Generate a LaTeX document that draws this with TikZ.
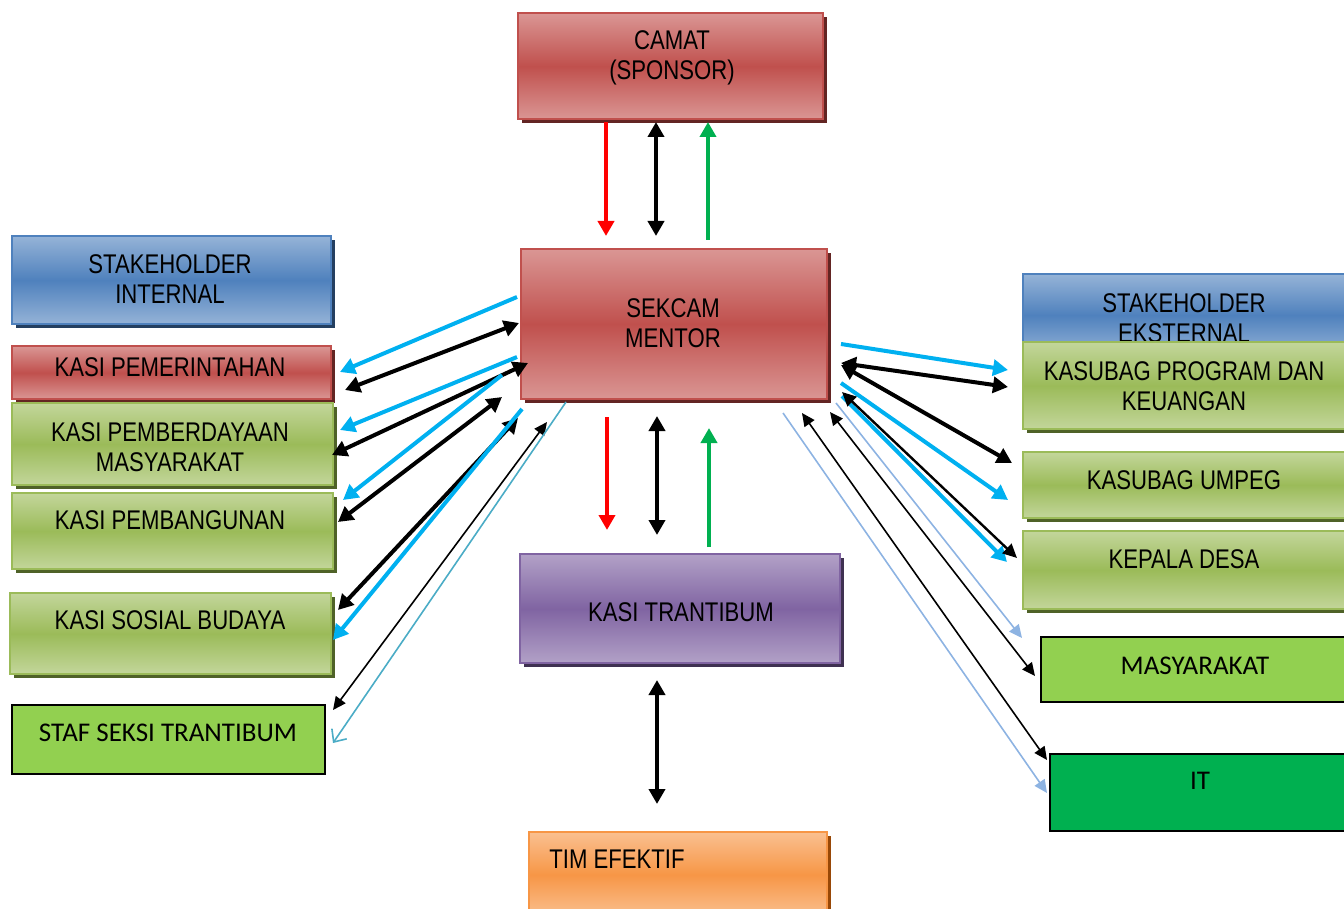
\documentclass[tikz,border=0pt]{standalone}
\usepackage{fontspec}
\setmainfont[FakeStretch=0.82]{Liberation Sans}
\newfontfamily\calfont{Carlito}
\usetikzlibrary{arrows.meta,shadows}

% panel colours: light (L), middle (M), shadow (D)
\definecolor{redL}{HTML}{DA9694}
\definecolor{redM}{HTML}{C0504D}
\definecolor{redD}{HTML}{632523}
\definecolor{bluL}{HTML}{95B3D7}
\definecolor{bluM}{HTML}{4F81BD}
\definecolor{bluD}{HTML}{243F60}
\definecolor{grnL}{HTML}{C3D69B}
\definecolor{grnM}{HTML}{9BBB59}
\definecolor{grnD}{HTML}{4F6228}
\definecolor{purL}{HTML}{B2A1C7}
\definecolor{purM}{HTML}{8064A2}
\definecolor{purD}{HTML}{3F3151}
\definecolor{orgL}{HTML}{FAC090}
\definecolor{orgM}{HTML}{F79646}
\definecolor{orgD}{HTML}{984807}
\definecolor{limeflat}{HTML}{92D050}
\definecolor{greenflat}{HTML}{00B050}
\definecolor{arrcyan}{HTML}{00B0F0}
\definecolor{arrred}{HTML}{FF0000}
\definecolor{arrgreen}{HTML}{00B050}
\definecolor{arrteal}{HTML}{4BACC6}
\definecolor{arrsky}{HTML}{8DB3E2}

\tikzset{
  panel/.style={anchor=north west, inner sep=0pt, line width=1.2pt,
    draw=#1M, top color=#1L, bottom color=#1L, middle color=#1M,
    drop shadow={shadow xshift=2pt, shadow yshift=-2pt, fill=#1D, opacity=1}},
  flatbox/.style={anchor=north west, inner sep=0pt, draw=black,
    line width=0.9pt, fill=#1},
  lbl/.style={font=\fontsize{13.5}{15}\selectfont, align=center, inner sep=0pt},
  clbl/.style={font=\calfont\fontsize{13.5}{15}\selectfont, inner sep=0pt},
  bigtip/.tip={Triangle[length=7.5pt,width=8pt]},
  midtip/.tip={Triangle[length=7pt,width=6.5pt]},
  smalltip/.tip={Triangle[length=6.5pt,width=6pt]},
  thickone/.style={line width=2pt, -bigtip},
  thicktwo/.style={line width=2pt, bigtip-bigtip},
  midtwo/.style={line width=1.2pt, midtip-midtip},
  thintwo/.style={line width=0.8pt, smalltip-smalltip},
  thinone/.style={line width=0.8pt, -smalltip},
  openone/.style={line width=0.8pt, -{Straight Barb[length=5pt,width=9pt]}},
}

\begin{document}
\begin{tikzpicture}[x=0.5pt,y=-0.5pt]
\path[use as bounding box] (0,0) rectangle (1344,909);
\clip (0,0) rectangle (1344,909);

% ---- centre column ----
\node[panel=red, minimum width=152.5pt, minimum height=53pt] (camat) at (517,12) {};
\node[lbl] (camat-t) at (672,58) {CAMAT\\(SPONSOR)};
\node[panel=red, minimum width=153pt, minimum height=75pt] (sek) at (520,248) {};
\node[lbl] (sek-t) at (673,323) {SEKCAM\\MENTOR};
\node[panel=pur, minimum width=160pt, minimum height=54.5pt] (ktr) at (519,553) {};
\node[lbl] (ktr-t) at (681,612) {KASI TRANTIBUM};
\node[panel=org, minimum width=149pt, minimum height=42.5pt] (tim) at (528,831) {};
\node[lbl] (tim-t) at (617,859) {TIM EFEKTIF};

% ---- internal stakeholders ----
\node[panel=blu, minimum width=159.5pt, minimum height=44pt] (stin) at (11,235) {};
\node[lbl] (stin-t) at (170,279) {STAKEHOLDER\\INTERNAL};
\node[panel=red, minimum width=159.5pt, minimum height=26.5pt] (kpem) at (11,345) {};
\node[lbl] (kpem-t) at (170,367) {KASI PEMERINTAHAN};
\node[panel=grn, minimum width=160.5pt, minimum height=41pt] (kpmd) at (11,402) {};
\node[lbl] (kpmd-t) at (170,447) {KASI PEMBERDAYAAN\\MASYARAKAT};
\node[panel=grn, minimum width=160.5pt, minimum height=38pt] (kpbg) at (11,492) {};
\node[lbl] (kpbg-t) at (170,520) {KASI PEMBANGUNAN};
\node[panel=grn, minimum width=160.5pt, minimum height=40.5pt] (ksos) at (9,592) {};
\node[lbl] (ksos-t) at (170,620) {KASI SOSIAL BUDAYA};
\node[flatbox=limeflat, minimum width=156.5pt, minimum height=34.5pt] (staf) at (11,704) {};
\node[clbl] (staf-t) at (168,733) {STAF SEKSI TRANTIBUM};

% ---- external stakeholders ----
\node[panel=blu, minimum width=165pt, minimum height=41pt] (stex) at (1022,273) {};
\node[lbl] (stex-t) at (1184,318) {STAKEHOLDER\\EKSTERNAL};
\node[panel=grn, minimum width=165pt, minimum height=43.5pt] (kprg) at (1022,341) {};
\node[lbl] (kprg-t) at (1184,386) {KASUBAG PROGRAM DAN\\KEUANGAN};
\node[panel=grn, minimum width=165pt, minimum height=33pt] (kump) at (1022,451) {};
\node[lbl] (kump-t) at (1184,480) {KASUBAG UMPEG};
\node[panel=grn, minimum width=165pt, minimum height=39pt] (kdes) at (1022,530) {};
\node[lbl] (kdes-t) at (1184,559) {KEPALA DESA};
\node[flatbox=limeflat, minimum width=160pt, minimum height=32.5pt] (masy) at (1040,636) {};
\node[clbl] (masy-t) at (1195,666) {MASYARAKAT};
\node[flatbox=greenflat, minimum width=155pt, minimum height=38.5pt] (it) at (1049,753) {};
\node[clbl] (it-t) at (1200,781) {IT};

% ---- connector end points ----
\foreach \n/\x/\y in {
  c1a/606/122, c1b/606/236, c2a/656/122, c2b/656/236, c3a/708/240, c3b/708/122,
  c4a/607/417, c4b/607/530, c5a/657/416, c5b/657/535, c6a/709/547, c6b/709/428,
  c7a/657/680, c7b/657/804,
  l1a/517/297, l1b/340/372, l2a/345/390, l2b/519/323,
  l3a/517/357, l3b/340/430, l4a/332/455, l4b/528/363,
  l5a/502/375, l5b/343/500, l6a/338/522, l6b/502/397,
  l7a/522/409, l7b/333/640, l8a/338/610, l8b/518/418,
  l9a/333/710, l9b/547/422, l10a/566/402, l10b/333/743,
  r1a/841/344, r1b/1008/370, r2a/841/363, r2b/1008/387,
  r3a/841/365, r3b/1012/463, r4a/841/383, r4b/1008/500,
  r5a/842/392, r5b/1017/558, r6a/842/396, r6b/1007/562,
  r7a/836/403, r7b/1022/638, r8a/830/412, r8b/1035/676,
  r9a/802/413, r9b/1047/760, r10a/783/413, r10b/1047/793}
  \coordinate (\n) at (\x,\y);

% ---- vertical links ----
\draw[thickone, arrred] (c1a) -- (c1b);
\draw[thicktwo] (c2a) -- (c2b);
\draw[thickone, arrgreen] (c3a) -- (c3b);
\draw[thickone, arrred] (c4a) -- (c4b);
\draw[thicktwo] (c5a) -- (c5b);
\draw[thickone, arrgreen] (c6a) -- (c6b);
\draw[thicktwo] (c7a) -- (c7b);

% ---- links to the internal side ----
\draw[thickone, arrcyan] (l1a) -- (l1b);
\draw[thicktwo] (l2a) -- (l2b);
\draw[thickone, arrcyan] (l3a) -- (l3b);
\draw[thicktwo] (l4a) -- (l4b);
\draw[thickone, arrcyan] (l5a) -- (l5b);
\draw[thicktwo] (l6a) -- (l6b);
\draw[thicktwo] (l8a) -- (l8b);
\draw[thickone, arrcyan] (l7a) -- (l7b);
\draw[thintwo] (l9a) -- (l9b);
\draw[openone, arrteal] (l10a) -- (l10b);

% ---- links to the external side ----
\draw[thickone, arrcyan] (r1a) -- (r1b);
\draw[thicktwo] (r2a) -- (r2b);
\draw[thicktwo] (r3a) -- (r3b);
\draw[thickone, arrcyan] (r4a) -- (r4b);
\draw[thickone, arrcyan] (r6a) -- (r6b);
\draw[midtwo] (r5a) -- (r5b);
\draw[thinone, arrsky] (r7a) -- (r7b);
\draw[thintwo] (r8a) -- (r8b);
\draw[thintwo] (r9a) -- (r9b);
\draw[thinone, arrsky] (r10a) -- (r10b);
\end{tikzpicture}
\end{document}
